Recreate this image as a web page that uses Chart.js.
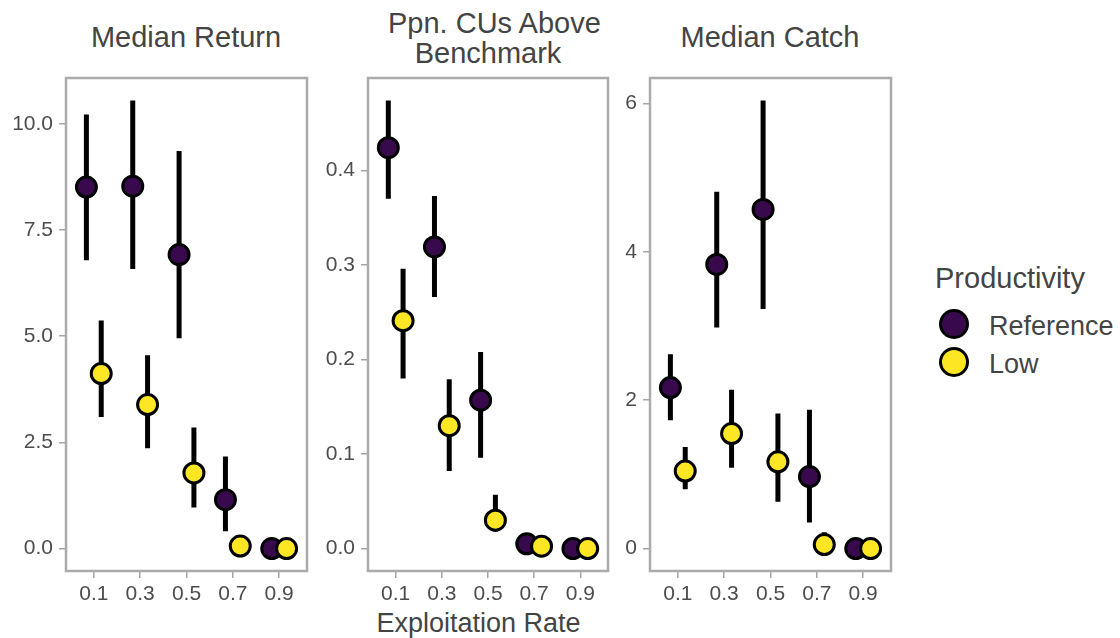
<!DOCTYPE html>
<html>
<head>
<meta charset="utf-8">
<script src="https://cdn.jsdelivr.net/npm/chart.js@4.4.1/dist/chart.umd.min.js"></script>
<style>
body { margin: 0; background: #fff; font-family: "Liberation Sans", Arial, sans-serif; }
#wrap { position: relative; width: 1120px; height: 638px; overflow: hidden; }
.pc { position: absolute; top: 70px; }
.ttl { position: absolute; color: #444; font-size: 29px; line-height: 30px; text-align: center; white-space: nowrap; }
.lg { position: absolute; color: #444; font-size: 27px; line-height: 30px; white-space: nowrap; }
.dot { position: absolute; width: 24px; height: 24px; border: 3.5px solid #000; border-radius: 50%; }
</style>
</head>
<body>
<div id="wrap">
  <div class="ttl" style="left:86px;width:200px;top:22px;">Median Return</div>
  <div class="ttl" style="left:388px;width:200px;top:8px;">Ppn. CUs Above<br>Benchmark</div>
  <div class="ttl" style="left:670px;width:200px;top:22px;">Median Catch</div>
  <div class="ttl" style="left:0;width:957px;top:608px;font-size:27px;">Exploitation Rate</div>

  <canvas id="c1" class="pc" style="left:0px" width="310" height="545"></canvas>
  <canvas id="c2" class="pc" style="left:310px" width="300" height="545"></canvas>
  <canvas id="c3" class="pc" style="left:612px" width="282" height="545"></canvas>

  <div class="lg" style="left:935px;top:263px;font-size:29px;">Productivity</div>
  <div class="dot" style="left:939px;top:309px;background:#380a4d"></div>
  <div class="lg" style="left:989px;top:311px;">Reference</div>
  <div class="dot" style="left:939px;top:347px;background:#fde725"></div>
  <div class="lg" style="left:989px;top:349px;">Low</div>
</div>
<script>
// exploitation rate categories
var rates = ['0.1', '0.3', '0.5', '0.7', '0.9'];

// Median Return
var retRef   = [8.51, 8.53, 6.92, 1.15, 0];
var retRefLo = [6.79, 6.58, 4.95, 0.41, 0];
var retRefHi = [10.22, 10.55, 9.36, 2.17, 0];
var retLow   = [4.12, 3.39, 1.78, 0.06, 0];
var retLowLo = [3.10, 2.36, 0.97, 0.03, 0];
var retLowHi = [5.37, 4.55, 2.85, 0.09, 0];
var retTicks = [0, 2.5, 5, 7.5, 10];

// Ppn. CUs above benchmark
var ppnRef   = [0.424, 0.319, 0.157, 0.005, 0];
var ppnRefLo = [0.370, 0.266, 0.096, 0.003, 0];
var ppnRefHi = [0.474, 0.373, 0.208, 0.008, 0];
var ppnLow   = [0.241, 0.130, 0.030, 0.0025, 0];
var ppnLowLo = [0.180, 0.082, 0.018, 0.001, 0];
var ppnLowHi = [0.296, 0.179, 0.057, 0.004, 0];
var ppnTicks = [0, 0.1, 0.2, 0.3, 0.4];

// Median Catch
var catRef   = [2.17, 3.83, 4.57, 0.97, 0];
var catRefLo = [1.73, 2.98, 3.23, 0.35, 0];
var catRefHi = [2.62, 4.81, 6.04, 1.87, 0];
var catLow   = [1.045, 1.55, 1.17, 0.054, 0];
var catLowLo = [0.80, 1.09, 0.63, 0.0, 0];
var catLowHi = [1.37, 2.14, 1.82, 0.22, 0];
var catTicks = [0, 2, 4, 6];

var refColor = '#380a4d', lowColor = '#fde725';
var dodge = 0.16;

var boxPlugin = {
    id: 'box',
    afterDatasetsDraw: function (chart) {
        var a = chart.chartArea, c = chart.ctx;
        c.save();
        c.strokeStyle = '#ababab';
        c.lineWidth = 2.5;
        c.strokeRect(a.left, a.top, a.right - a.left, a.bottom - a.top);
        c.restore();
    }
};

function noPad(s) {
    s.paddingTop = 0; s.paddingBottom = 0; s.paddingLeft = 0; s.paddingRight = 0;
}

function pts(vals, off) {
    return vals.map(function (v, i) { return { x: i + 1 + off, y: v }; });
}

function bars(lo, hi, off) {
    var d = [];
    for (var i = 0; i < lo.length; i++) {
        if (hi[i] - lo[i] <= 0) continue;
        d.push({ x: i + 1 + off, y: lo[i] }, { x: i + 1 + off, y: hi[i] }, { x: i + 1 + off, y: null });
    }
    return d;
}

function makePanel(id, ref, refLo, refHi, low, lowLo, lowHi, ticks, digits, axisW, padR) {
    var all = refLo.concat(refHi, lowLo, lowHi, ref, low);
    var lo = Math.min.apply(null, all), hi = Math.max.apply(null, all);
    var pad = (hi - lo) * 0.05;

    var barStyle = { type: 'scatter', showLine: true, borderColor: '#000', borderWidth: 5, borderCapStyle: 'butt', pointRadius: 0, clip: false, order: 10 };

    new Chart(document.getElementById(id), {
        type: 'scatter',
        data: {
            datasets: [
                Object.assign({ label: 'refbar', data: bars(refLo, refHi, -dodge) }, barStyle),
                Object.assign({ label: 'lowbar', data: bars(lowLo, lowHi, dodge) }, barStyle),
                { label: 'Reference', data: pts(ref, -dodge), backgroundColor: refColor, borderColor: '#000', borderWidth: 3, pointRadius: 10, clip: false, order: 2 },
                { label: 'Low', data: pts(low, dodge), backgroundColor: lowColor, borderColor: '#000', borderWidth: 3, pointRadius: 10, clip: false, order: 1 }
            ]
        },
        options: {
            responsive: false,
            animation: false,
            events: [],
            layout: { autoPadding: false, padding: { top: 8, right: padR, left: 0, bottom: 0 } },
            plugins: { legend: { display: false }, tooltip: { enabled: false } },
            scales: {
                x: {
                    type: 'linear', min: 0.4, max: 5.6,
                    afterBuildTicks: function (s) { s.ticks = rates.map(function (r, i) { return { value: i + 1 }; }); },
                    afterFit: function (s) { s.height = 44; noPad(s); },
                    grid: { drawOnChartArea: false, drawTicks: true, tickLength: 7, color: '#a6a6a6', lineWidth: 1.5 },
                    border: { display: false },
                    ticks: {
                        padding: 4, color: '#4d4d4d', maxRotation: 0,
                        font: { family: 'Liberation Sans', size: 21 },
                        callback: function (v) { return rates[Math.round(v) - 1]; }
                    }
                },
                y: {
                    type: 'linear', min: lo - pad, max: hi + pad,
                    afterBuildTicks: function (s) { s.ticks = ticks.map(function (t) { return { value: t }; }); },
                    afterFit: function (s) { s.width = axisW; noPad(s); },
                    grid: { drawOnChartArea: false, drawTicks: true, tickLength: 7, color: '#a6a6a6', lineWidth: 1.5 },
                    border: { display: false },
                    ticks: {
                        padding: 6, color: '#4d4d4d',
                        font: { family: 'Liberation Sans', size: 21 },
                        callback: function (v) { return v.toFixed(digits); }
                    }
                }
            }
        },
        plugins: [boxPlugin]
    });
}

makePanel('c1', retRef, retRefLo, retRefHi, retLow, retLowLo, retLowHi, retTicks, 1, 66, 3);
makePanel('c2', ppnRef, ppnRefLo, ppnRefHi, ppnLow, ppnLowLo, ppnLowHi, ppnTicks, 1, 58, 2);
makePanel('c3', catRef, catRefLo, catRefHi, catLow, catLowLo, catLowHi, catTicks, 0, 38, 3);
</script>
</body>
</html>
